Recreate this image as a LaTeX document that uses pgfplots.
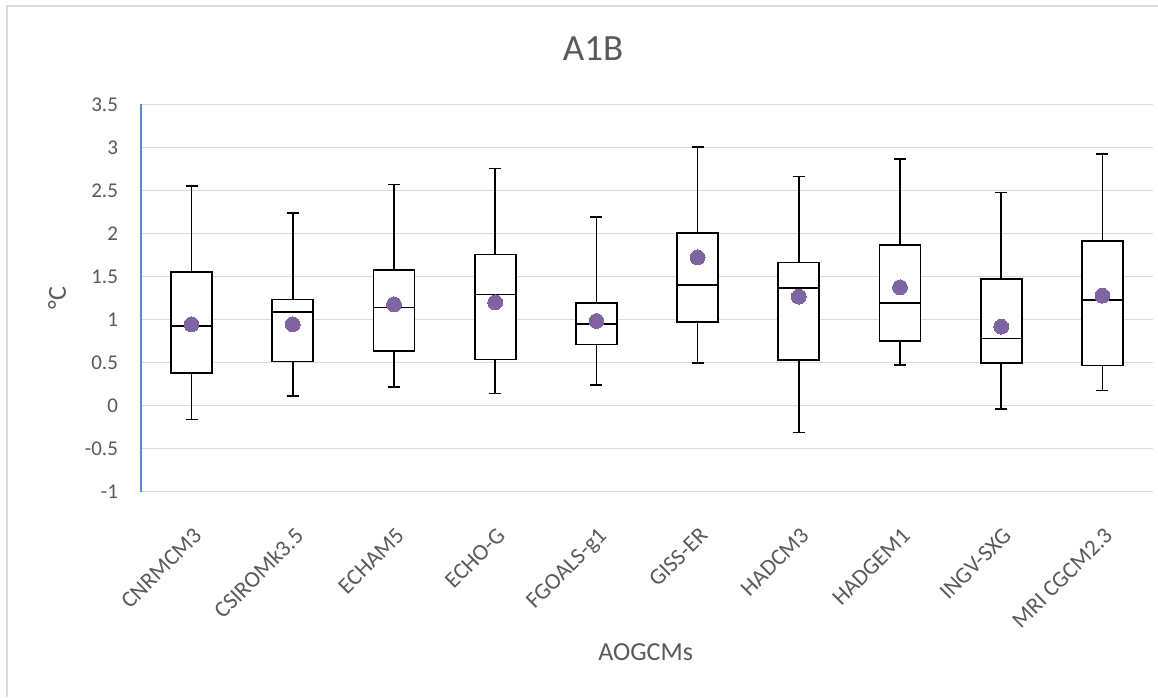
\documentclass[border=0pt]{standalone}
\usepackage{pgfplots}
\pgfplotsset{compat=1.18}
\usepgfplotslibrary{statistics}
\usepackage{fontspec}
\setmainfont{Carlito}
\definecolor{tickgray}{HTML}{595959}
\definecolor{gridgray}{HTML}{D9D9D9}
\definecolor{axisblue}{HTML}{5B8BD0}
\definecolor{meanpurple}{HTML}{8064A2}
\begin{document}
\begin{tikzpicture}
\begin{axis}[
  at={(0,0)}, anchor=south west,
  scale only axis, width=506pt, height=193.7pt,
  xmin=0.5, xmax=10.5, ymin=-1, ymax=3.5,
  ytick={-1,-0.5,0,0.5,1,1.5,2,2.5,3,3.5},
  xtick={1,2,3,4,5,6,7,8,9,10},
  xticklabels={CNRMCM3,CSIROMk3.5,ECHAM5,ECHO-G,FGOALS-g1,GISS-ER,HADCM3,HADGEM1,INGV-SXG,MRI CGCM2.3},
  major tick length=0pt,
  axis x line*=bottom, axis y line*=left,
  x axis line style={draw=gridgray, line width=0.6pt, -},
  y axis line style={draw=axisblue, line width=0.8pt, -},
  ymajorgrids, grid style={gridgray, line width=0.6pt},
  /pgf/number format/assume math mode=true,
  yticklabel style={font=\fontsize{10.5}{12}\selectfont, text=tickgray, anchor=east, xshift=-8pt},
  xticklabel style={font=\fontsize{11.5}{13}\selectfont, text=tickgray, rotate=45, anchor=north east, xshift=-8.5pt, yshift=-9pt},
  boxplot/draw direction=y,
  boxplot/box extend=0.405,
  boxplot/whisker extend=0.12,
  clip=false,
]
\pgfplotsset{every boxplot/.style={draw=black, line width=0.85pt, fill=white, solid}}
\addplot+[boxplot prepared={draw position=1, lower whisker=-0.160, lower quartile=0.375, median=0.925, upper quartile=1.556, upper whisker=2.555}, draw=black, fill=white, line width=0.85pt] coordinates {};
\addplot+[boxplot prepared={draw position=2, lower whisker=0.115, lower quartile=0.514, median=1.087, upper quartile=1.234, upper whisker=2.234}, draw=black, fill=white, line width=0.85pt] coordinates {};
\addplot+[boxplot prepared={draw position=3, lower whisker=0.220, lower quartile=0.638, median=1.138, upper quartile=1.575, upper whisker=2.570}, draw=black, fill=white, line width=0.85pt] coordinates {};
\addplot+[boxplot prepared={draw position=4, lower whisker=0.142, lower quartile=0.537, median=1.292, upper quartile=1.757, upper whisker=2.756}, draw=black, fill=white, line width=0.85pt] coordinates {};
\addplot+[boxplot prepared={draw position=5, lower whisker=0.239, lower quartile=0.711, median=0.944, upper quartile=1.196, upper whisker=2.191}, draw=black, fill=white, line width=0.85pt] coordinates {};
\addplot+[boxplot prepared={draw position=6, lower whisker=0.495, lower quartile=0.971, median=1.401, upper quartile=2.009, upper whisker=3.008}, draw=black, fill=white, line width=0.85pt] coordinates {};
\addplot+[boxplot prepared={draw position=7, lower whisker=-0.311, lower quartile=0.526, median=1.370, upper quartile=1.664, upper whisker=2.660}, draw=black, fill=white, line width=0.85pt] coordinates {};
\addplot+[boxplot prepared={draw position=8, lower whisker=0.471, lower quartile=0.754, median=1.192, upper quartile=1.862, upper whisker=2.861}, draw=black, fill=white, line width=0.85pt] coordinates {};
\addplot+[boxplot prepared={draw position=9, lower whisker=-0.040, lower quartile=0.491, median=0.781, upper quartile=1.474, upper whisker=2.474}, draw=black, fill=white, line width=0.85pt] coordinates {};
\addplot+[boxplot prepared={draw position=10, lower whisker=0.177, lower quartile=0.467, median=1.227, upper quartile=1.916, upper whisker=2.919}, draw=black, fill=white, line width=0.85pt] coordinates {};
\addplot[only marks, mark=*, mark size=3.7pt, draw=meanpurple, fill=meanpurple, mark options={draw=meanpurple, fill=meanpurple, line width=0pt}] coordinates {
(1,0.944) (2,0.944) (3,1.176) (4,1.199) (5,0.983) (6,1.722) (7,1.265) (8,1.374) (9,0.917) (10,1.277)};
\end{axis}
\node[font=\fontsize{18.5}{22}\selectfont, text=tickgray] at (226pt,221.35pt) {A1B};
\node[font=\fontsize{13}{15}\selectfont, text=tickgray] at (252.3pt,-80pt) {AOGCMs};
\node[font=\fontsize{13}{15}\selectfont, text=tickgray, rotate=90] at (-42pt,96.85pt) {°C};
\draw[gridgray, line width=0.6pt] (-67pt,-102.65pt) -- (-67pt,242.85pt) -- (508.5pt,242.85pt);
\pgfresetboundingbox
\useasboundingbox (-70.5pt,-102.65pt) rectangle (508.5pt,245.85pt);
\end{tikzpicture}
\end{document}
